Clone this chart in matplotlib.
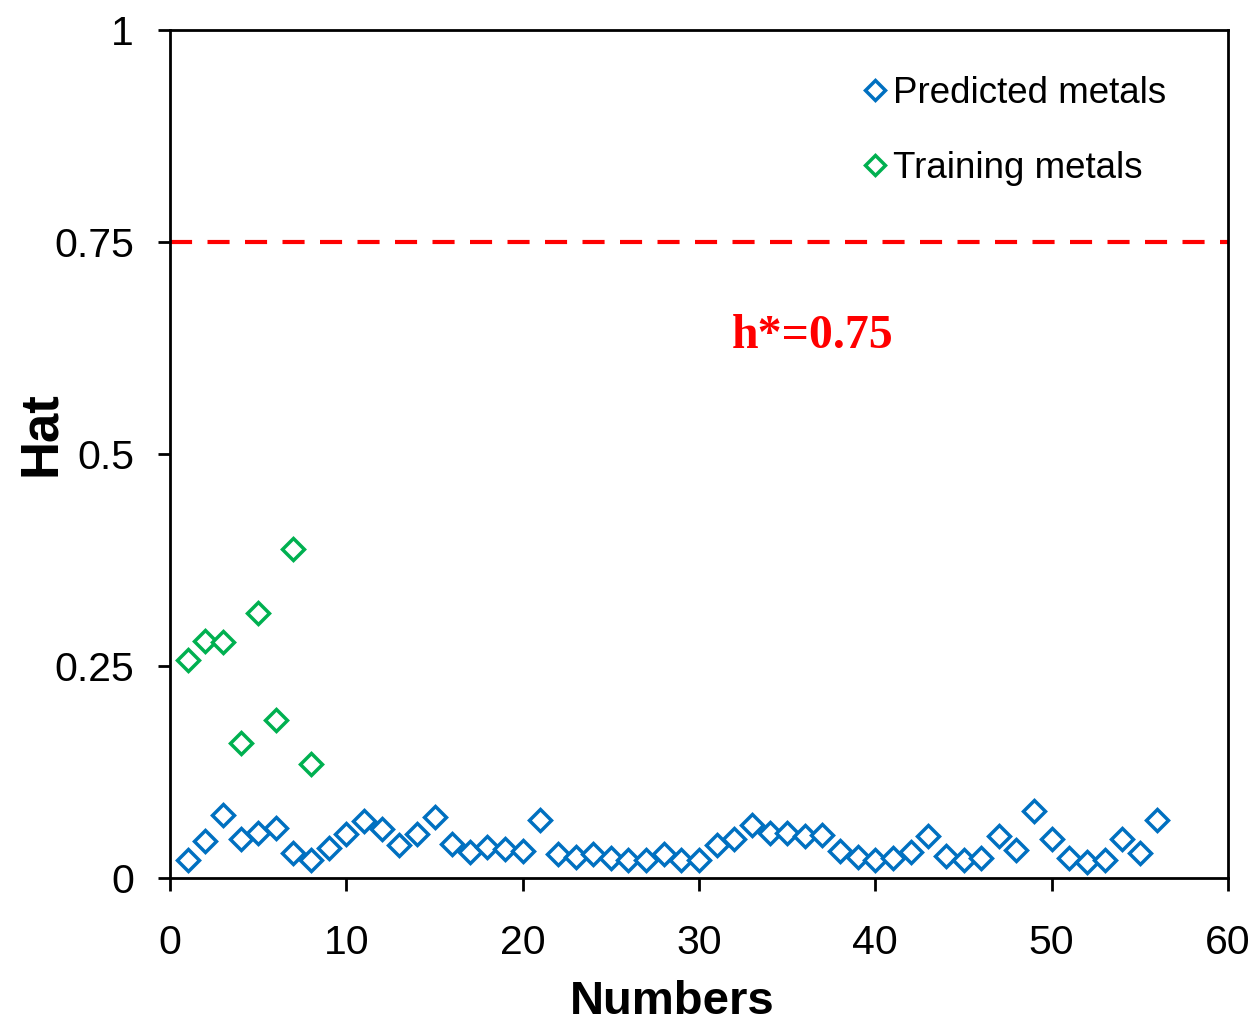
import numpy as np
import matplotlib
matplotlib.use("Agg")
import matplotlib.pyplot as plt

# Hat values
train_x = [1, 2, 3, 4, 5, 6, 7, 8]
train_hat = [0.257, 0.279, 0.278, 0.159, 0.312, 0.186, 0.388, 0.134]

pred_x = list(range(1, 57))
pred_hat = [0.021, 0.044, 0.074, 0.046, 0.053, 0.059, 0.029, 0.021, 0.035, 0.052,
            0.067, 0.058, 0.039, 0.052, 0.072, 0.040, 0.031, 0.037, 0.034, 0.032,
            0.068, 0.028, 0.025, 0.028, 0.024, 0.021, 0.021, 0.028, 0.021, 0.021,
            0.039, 0.046, 0.0625, 0.053, 0.053, 0.050, 0.051, 0.032, 0.025, 0.021,
            0.024, 0.031, 0.050, 0.026, 0.021, 0.024, 0.050, 0.033, 0.079, 0.046,
            0.024, 0.019, 0.021, 0.046, 0.029, 0.068]

h_star = 0.75
x_ticks = [0, 10, 20, 30, 40, 50, 60]
y_ticks = [0, 0.25, 0.5, 0.75, 1]
y_ticklabels = ["0", "0.25", "0.5", "0.75", "1"]

blue = "#0070C0"
green = "#00B050"

plt.rcParams['font.family'] = ['Liberation Sans', 'DejaVu Sans']

fig = plt.figure(figsize=(12.55, 10.23), dpi=100)
ax = fig.add_axes([170/1255, 1 - 878/1023, 1058/1255, 848/1023])

ax.plot(pred_x, pred_hat, ls='none', marker='D', ms=11, mfc='white',
        mec=blue, mew=2.5, label='Predicted metals')
ax.plot(train_x, train_hat, ls='none', marker='D', ms=11, mfc='white',
        mec=green, mew=2.5, label='Training metals')
ax.axhline(h_star, color='red', lw=3, dashes=(5.3, 3.7))

ax.text(36.47, 0.625, "h*=0.75", color='red', fontsize=34.5, fontweight='bold',
        family=['Liberation Serif', 'DejaVu Serif'], ha='center', va='baseline')

ax.set_xlim(0, 60)
ax.set_ylim(0, 1)
ax.set_xticks(x_ticks)
ax.set_yticks(y_ticks)
ax.set_yticklabels(y_ticklabels)
ax.tick_params(axis='both', direction='out', length=9, width=2, labelsize=29.5)
ax.tick_params(axis='x', pad=24)
ax.tick_params(axis='y', pad=17)
for s in ax.spines.values():
    s.set_linewidth(2)

ax.set_xlabel("Numbers", fontsize=34, fontweight='bold')
ax.set_ylabel("Hat", fontsize=38, fontweight='bold')
ax.xaxis.set_label_coords(0.4745, -0.120)
ax.yaxis.set_label_coords(-0.098, 0.524)

leg = ax.legend(loc='upper left', bbox_to_anchor=(0.657, 0.946), frameon=False,
                fontsize=26.5, handlelength=0.55, handletextpad=0.2,
                labelspacing=1.1, borderpad=0, borderaxespad=0, markerscale=0.95)

fig.savefig("out.png", dpi=100)
